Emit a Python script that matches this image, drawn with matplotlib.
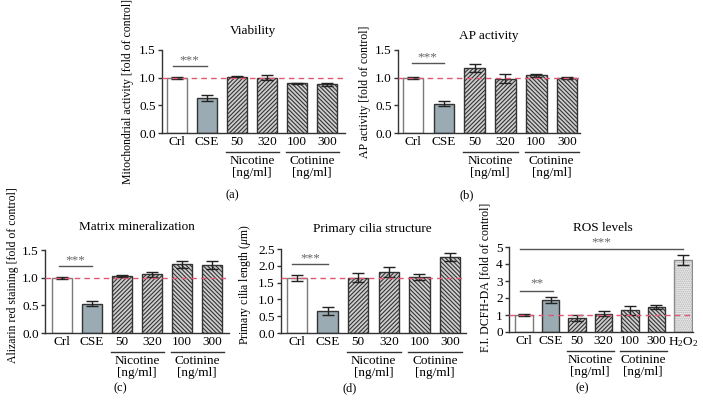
import matplotlib
matplotlib.use("Agg")
import matplotlib.pyplot as plt
import matplotlib.transforms as mtransforms

plt.rcParams['font.family'] = ['Liberation Serif', 'DejaVu Serif']
plt.rcParams['mathtext.fontset'] = 'custom'
plt.rcParams['mathtext.rm'] = 'Liberation Serif'
plt.rcParams['mathtext.it'] = 'Liberation Serif:italic'
plt.rcParams['hatch.linewidth'] = 0.8

# данные
labels6 = ['Crl', 'CSE', '50', '320', '100', '300']
labels7 = labels6 + ['H$_2$O$_2$']

via_mean = [1.00, 0.63, 1.02, 1.00, 0.90, 0.88]
via_err = [0.02, 0.05, 0.01, 0.05, 0.01, 0.03]

ap_mean = [1.00, 0.53, 1.18, 0.98, 1.04, 0.99]
ap_err = [0.02, 0.04, 0.07, 0.08, 0.03, 0.02]

min_mean = [1.00, 0.53, 1.03, 1.06, 1.24, 1.23]
min_err = [0.02, 0.04, 0.02, 0.04, 0.06, 0.07]

cil_mean = [1.65, 0.66, 1.65, 1.81, 1.68, 2.25]
cil_err = [0.09, 0.12, 0.14, 0.14, 0.09, 0.12]

ros_mean = [1.00, 1.88, 0.82, 1.08, 1.27, 1.47, 4.25]
ros_err = [0.05, 0.20, 0.16, 0.14, 0.25, 0.14, 0.30]

W, H = 703, 417
fig = plt.figure(figsize=(W / 100, H / 100), dpi=100)

RED = '#e05a72'
FS = 9.5


def make_ax(l, t, r, b):
    return fig.add_axes([l / W, 1 - b / H, (r - l) / W, (b - t) / H])


def draw_panel(ax, mean, err, labels, ylim, yticks, xlim, ref, fmt):
    n = len(mean)
    x = list(range(n))
    w = 0.67
    # Crl
    ax.bar(x[0], mean[0], w, color='white', edgecolor='#7a7a7a', lw=1)
    # CSE
    ax.bar(x[1], mean[1], w, color='#9aabb3', edgecolor='#333333', lw=1)
    # никотин / котинин
    ax.bar(x[2:4], mean[2:4], w, color='#cfcfcf', edgecolor='#333333', lw=1, hatch='////////')
    ax.bar(x[4:6], mean[4:6], w, color='#cfcfcf', edgecolor='#333333', lw=1, hatch='\\\\\\\\\\\\\\\\')
    if n > 6:
        ax.bar(x[6], mean[6], w, color='#ececec', edgecolor='#b0b0b0', lw=0, hatch='........')
        ax.bar(x[6], mean[6], w, fill=False, edgecolor='#8a8a8a', lw=1)
    ax.errorbar(x, mean, yerr=err, fmt='none', ecolor='#222222', elinewidth=1,
                capsize=4.5, capthick=1)
    ax.axhline(ref, color=RED, lw=1, ls=(0, (4, 3)), zorder=5)

    ax.set_xlim(*xlim)
    ax.set_ylim(*ylim)
    ax.set_yticks(yticks)
    ax.set_yticklabels([fmt.format(v) for v in yticks], fontsize=FS)
    ax.set_xticks(x)
    ax.set_xticklabels(labels, fontsize=FS)
    ax.tick_params(axis='x', length=0, pad=2.5)
    ax.tick_params(axis='y', length=3, width=1, pad=1.5, color='#333333')
    for s in ['top', 'right']:
        ax.spines[s].set_visible(False)
    for s in ['left', 'bottom']:
        ax.spines[s].set_color('#333333')
        ax.spines[s].set_linewidth(1)

    trans = mtransforms.blended_transform_factory(ax.transData, ax.transAxes)
    off = mtransforms.ScaledTranslation(0, -19 / 100, fig.dpi_scale_trans)
    for i0, name in [(2, 'Nicotine'), (4, 'Cotinine')]:
        ax.plot([i0 - 0.38, i0 + 1.4], [0, 0], color='#333333', lw=1,
                transform=trans + off, clip_on=False)
        ax.text(i0 + 0.5, 0, name, fontsize=FS, ha='center', va='center',
                transform=trans + mtransforms.ScaledTranslation(0, -28 / 100, fig.dpi_scale_trans))
        ax.text(i0 + 0.5, 0, '[ng/ml]', fontsize=FS, ha='center', va='center',
                transform=trans + mtransforms.ScaledTranslation(0, -40 / 100, fig.dpi_scale_trans))


def sig(ax, x0, x1, y, ystar, txt):
    ax.plot([x0, x1], [y, y], color='#555555', lw=1, clip_on=False)
    ax.text((x0 + x1) / 2, ystar, txt, fontsize=FS, color='#666666',
            ha='center', va='center')


ax_a = make_ax(162, 50, 345, 133)
draw_panel(ax_a, via_mean, via_err, labels6, (0, 1.5), [0, 0.5, 1.0, 1.5],
           (-0.5, 5.6), 1.0, '{:.1f}')
sig(ax_a, -0.15, 1.0, 1.21, 1.31, '***')

ax_b = make_ax(398, 50, 580, 133)
draw_panel(ax_b, ap_mean, ap_err, labels6, (0, 1.5), [0, 0.5, 1.0, 1.5],
           (-0.49, 5.42), 1.0, '{:.1f}')
sig(ax_b, -0.05, 1.0, 1.27, 1.37, '***')

ax_c = make_ax(45, 250, 229, 333)
draw_panel(ax_c, min_mean, min_err, labels6, (0, 1.5), [0, 0.5, 1.0, 1.5],
           (-0.57, 5.57), 1.0, '{:.1f}')
sig(ax_c, -0.1, 1.0, 1.21, 1.31, '***')

ax_d = make_ax(281, 249, 466, 333)
draw_panel(ax_d, cil_mean, cil_err, labels6, (0, 2.5), [0, 0.5, 1.0, 1.5, 2.0, 2.5],
           (-0.52, 5.52), 1.65, '{:.1f}')
sig(ax_d, -0.15, 1.0, 2.05, 2.22, '***')

ax_e = make_ax(509, 247, 693, 332)
draw_panel(ax_e, ros_mean, ros_err, labels7, (0, 5), [0, 1, 2, 3, 4, 5],
           (-0.57, 6.38), 1.0, '{:d}')
sig(ax_e, -0.15, 1.1, 2.41, 2.85, '**')
sig(ax_e, -0.15, 6.0, 4.88, 5.25, '***')

# заголовки
titles = [('Viability', 253, 31), ('AP activity', 489, 36),
          ('Matrix mineralization', 137, 227), ('Primary cilia structure', 372, 229),
          ('ROS levels', 603, 228)]
for t, px, py in titles:
    fig.text(px / W, 1 - py / H, t, fontsize=9.5, ha='center', va='center')

ylabels = [('Mitochondrial activity [fold of control]', 128, 92),
           ('AP activity [fold of control]', 365, 92),
           ('Alizarin red staining [fold of control]', 13, 275),
           ('Primary cilia length ($\\mu$m)', 245, 285),
           ('F.I. DCFH-DA [fold of control]', 485, 277)]
for t, px, py in ylabels:
    fig.text(px / W, 1 - py / H, t, fontsize=8.5, rotation=90, ha='center', va='center')

letters = [('(a)', 232, 195), ('(b)', 467, 195), ('(c)', 120, 388),
           ('(d)', 350, 388), ('(e)', 582, 388)]
for t, px, py in letters:
    fig.text(px / W, 1 - py / H, t, fontsize=9, ha='center', va='center')

fig.savefig('out.png', dpi=100)
